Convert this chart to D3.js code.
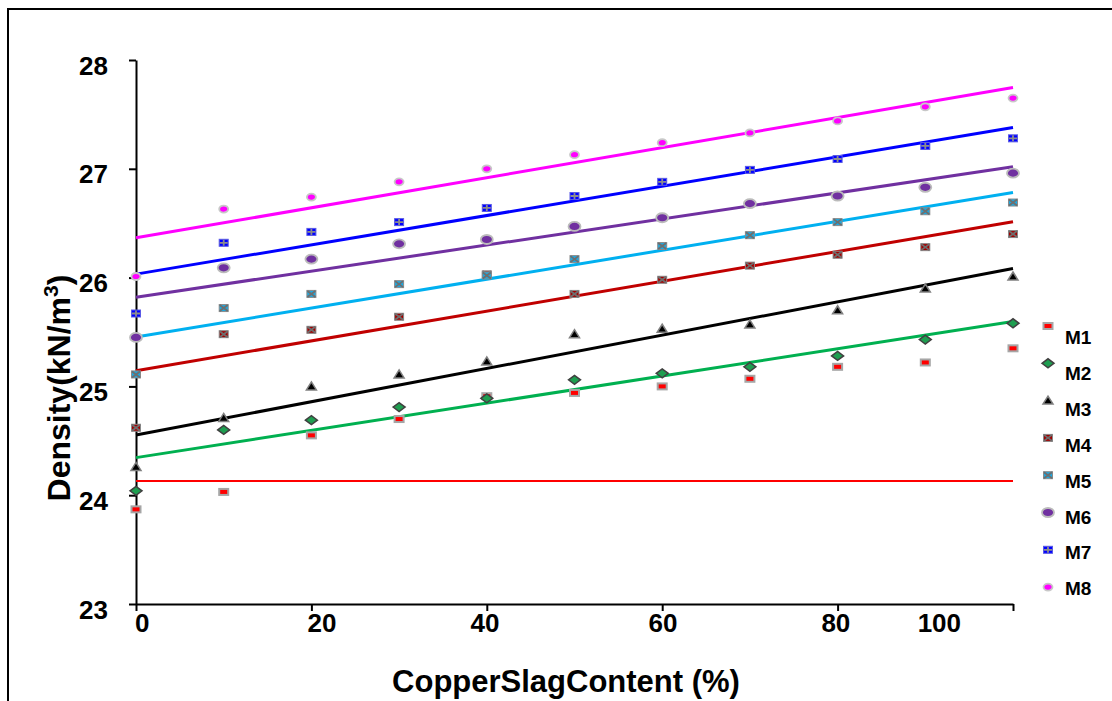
<!DOCTYPE html>
<html>
<head>
<meta charset="utf-8">
<script src="https://cdn.jsdelivr.net/npm/d3@7"></script>
<style>
  html, body { margin: 0; padding: 0; background: #fff; }
  svg { display: block; font-family: "Liberation Sans", Arial, sans-serif; }
</style>
</head>
<body>
<svg id="chart" width="1112" height="701"></svg>
<script>
// ---------- data ----------
const copperSlag = [0, 10, 20, 30, 40, 50, 60, 70, 80, 90, 100];
const seriesNames = ["M1", "M2", "M3", "M4", "M5", "M6", "M7", "M8"];
const M1 = [23.87, 24.03, 24.55, 24.70, 24.91, 24.94, 25.00, 25.07, 25.18, 25.22, 25.35];
const M2 = [24.04, 24.60, 24.69, 24.81, 24.89, 25.06, 25.12, 25.18, 25.28, 25.43, 25.58];
const M3 = [24.26, 24.71, 25.00, 25.11, 25.23, 25.48, 25.53, 25.57, 25.70, 25.90, 26.01];
const M4 = [24.62, 25.48, 25.52, 25.64, 26.03, 25.85, 25.98, 26.11, 26.21, 26.28, 26.40];
const M5 = [25.11, 25.72, 25.85, 25.94, 26.02, 26.17, 26.29, 26.39, 26.51, 26.61, 26.69];
const M6 = [25.45, 26.09, 26.17, 26.31, 26.35, 26.47, 26.55, 26.68, 26.75, 26.83, 26.96];
const M7 = [25.67, 26.32, 26.42, 26.51, 26.64, 26.75, 26.88, 26.99, 27.09, 27.21, 27.28];
const M8 = [26.01, 26.63, 26.74, 26.88, 27.00, 27.13, 27.24, 27.33, 27.44, 27.57, 27.65];
const seriesValues = [M1, M2, M3, M4, M5, M6, M7, M8];
// M1's trend line in the source figure is a flat line
const m1TrendLine = [24.13, 24.13];
const yTicks = [23, 24, 25, 26, 27, 28];
const xTickMarks = [0, 20, 40, 60, 80, 100];
const xTickLabels = ["0", "20", "40", "60", "80", "100"];
const xTickLabelAt = [0.7, 21.2, 39.8, 60.1, 79.8, 91.6];

// ---------- styles ----------
const lineColors = ["#FF0000", "#00B050", "#000000", "#C00000", "#00B0F0", "#7030A0", "#0000FF", "#FF00FF"];
const markerTypes = ["square", "diamond", "triangle", "xsquare", "xsquare", "ellipse", "plussquare", "smallellipse"];
const markerFills = ["#FF0000", "#1E9E50", "#000000", "#A00000", "#1CA8E0", "#7030A0", "#0000FF", "#FF00FF"];

const svg = d3.select("#chart");

// outer frame (extends beyond the window on right/bottom)
svg.append("rect").attr("x", 8).attr("y", 9).attr("width", 1300).attr("height", 900)
  .attr("fill", "none").attr("stroke", "#000").attr("stroke-width", 2);

const x = d3.scaleLinear().domain([0, 100]).range([136, 1013]);
const y = d3.scaleLinear().domain([23, 28]).range([604, 60]);

// ---------- axes ----------
const yAxis = svg.append("g").attr("transform", "translate(136,0)")
  .call(d3.axisLeft(y).tickValues(yTicks).tickSize(7).tickSizeOuter(0).tickPadding(21).tickFormat(d3.format("d")));
yAxis.select(".domain").attr("stroke", "#000").attr("stroke-width", 2);
yAxis.selectAll(".tick line").attr("stroke", "#000").attr("stroke-width", 2);
yAxis.selectAll(".tick text").attr("font-size", 26).attr("font-weight", "bold")
  .attr("font-family", "Liberation Sans, Arial, sans-serif").attr("fill", "#000").attr("dy", "0.54em");

const xAxis = svg.append("g").attr("transform", "translate(0,604)")
  .call(d3.axisBottom(x).tickValues(xTickMarks).tickSize(7).tickSizeOuter(0).tickFormat(""));
xAxis.select(".domain").attr("stroke", "#000").attr("stroke-width", 2);
xAxis.selectAll(".tick line").attr("stroke", "#000").attr("stroke-width", 2);

svg.append("g").selectAll("text").data(xTickLabels).join("text")
  .attr("x", (d, i) => x(xTickLabelAt[i])).attr("y", 632)
  .attr("text-anchor", "middle").attr("font-size", 26).attr("font-weight", "bold")
  .attr("fill", "#000").text(d => d);

// axis titles
svg.append("text").attr("x", 566).attr("y", 692).attr("text-anchor", "middle")
  .attr("font-size", 31).attr("font-weight", "bold").attr("fill", "#000")
  .text("CopperSlagContent (%)");

const yt = svg.append("text").attr("transform", "translate(70,388) rotate(-90)")
  .attr("text-anchor", "middle").attr("font-size", 32).attr("font-weight", "bold").attr("fill", "#000");
yt.append("tspan").text("Density(kN/m");
yt.append("tspan").attr("font-size", 21).attr("dy", -12).text("3");
yt.append("tspan").attr("dy", 12).text(")");

// ---------- trend lines ----------
function linFit(vals) {
  const n = vals.length;
  const mx = d3.mean(copperSlag), my = d3.mean(vals);
  let sxy = 0, sxx = 0;
  for (let i = 0; i < n; i++) {
    sxy += (copperSlag[i] - mx) * (vals[i] - my);
    sxx += (copperSlag[i] - mx) ** 2;
  }
  const b = sxy / sxx, a = my - b * mx;
  return [a + b * copperSlag[0], a + b * copperSlag[n - 1]];
}
const xEnds = [copperSlag[0], copperSlag[copperSlag.length - 1]];
const lineGen = d3.line().x((d, i) => x(xEnds[i])).y(d => y(d));
const trendG = svg.append("g");
seriesValues.forEach((vals, si) => {
  const ends = si === 0 ? m1TrendLine : linFit(vals);
  trendG.append("path").datum(ends).attr("d", lineGen)
    .attr("fill", "none").attr("stroke", lineColors[si]).attr("stroke-width", si === 0 ? 2 : 3);
});

// ---------- markers ----------
function drawMarker(g, type, fill) {
  if (type === "square") {
    g.append("rect").attr("x", -4.5).attr("y", -3).attr("width", 9).attr("height", 6)
      .attr("fill", fill).attr("stroke", "#A6A6A6").attr("stroke-width", 2);
  } else if (type === "diamond") {
    g.append("path").attr("d", "M-6,0L0,-4.5L6,0L0,4.5Z")
      .attr("fill", fill).attr("stroke", "#404040").attr("stroke-width", 1.5);
  } else if (type === "triangle") {
    g.append("path").attr("d", "M0,-4.5L5,3.5L-5,3.5Z")
      .attr("fill", fill).attr("stroke", "#808080").attr("stroke-width", 1.5);
  } else if (type === "xsquare") {
    g.append("rect").attr("x", -4.5).attr("y", -3.5).attr("width", 9).attr("height", 7)
      .attr("fill", fill).attr("stroke", "#8A8A8A").attr("stroke-width", 1);
    g.append("path").attr("d", "M-4,-3L4,3M-4,3L4,-3")
      .attr("stroke", "#6E6E6E").attr("stroke-width", 1.8).attr("fill", "none");
  } else if (type === "ellipse") {
    g.append("ellipse").attr("rx", 6).attr("ry", 4.5)
      .attr("fill", fill).attr("stroke", "#BBBBBB").attr("stroke-width", 1.8);
  } else if (type === "plussquare") {
    g.append("rect").attr("x", -4.5).attr("y", -3.5).attr("width", 9).attr("height", 7)
      .attr("fill", fill).attr("stroke", "#5A5AE6").attr("stroke-width", 1);
    g.append("path").attr("d", "M-4,0L4,0M0,-3L0,3")
      .attr("stroke", "#8C8C8C").attr("stroke-width", 1.8).attr("fill", "none");
  } else if (type === "smallellipse") {
    g.append("ellipse").attr("rx", 4.5).attr("ry", 3.5)
      .attr("fill", fill).attr("stroke", "#C8C8C8").attr("stroke-width", 1.8);
  }
}

const markG = svg.append("g");
seriesValues.forEach((vals, si) => {
  vals.forEach((v, i) => {
    const g = markG.append("g").attr("transform", `translate(${x(copperSlag[i])},${y(v)})`);
    drawMarker(g, markerTypes[si], markerFills[si]);
  });
});

// ---------- legend ----------
const legendG = svg.append("g");
seriesNames.forEach((name, i) => {
  const g = legendG.append("g").attr("transform", `translate(1048,${326 + i * 37.3})`);
  drawMarker(g, markerTypes[i], markerFills[i]);
  legendG.append("text").attr("x", 1065).attr("y", 344 + i * 35.9)
    .attr("font-size", 19).attr("font-weight", "bold").attr("fill", "#000").text(name);
});
</script>
</body>
</html>
